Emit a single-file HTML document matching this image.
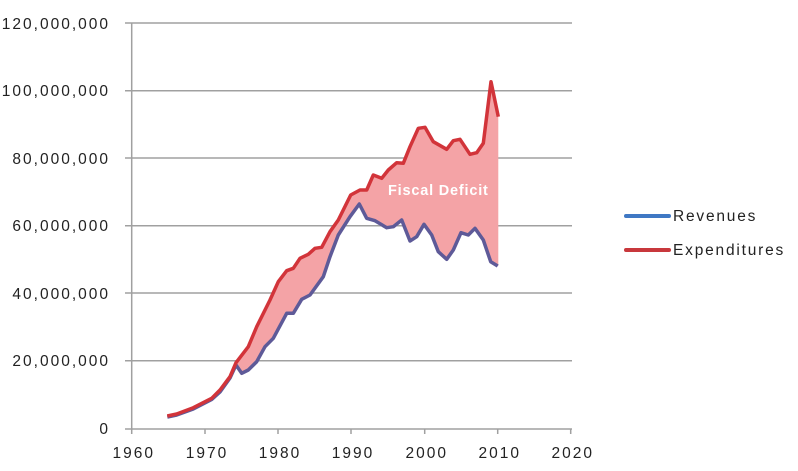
<!DOCTYPE html>
<html><head><meta charset="utf-8"><style>
html,body{margin:0;padding:0;background:#fff;}
svg{display:block;font-family:"Liberation Sans",sans-serif;}
</style></head><body>
<svg width="798" height="471" viewBox="0 0 798 471" xmlns="http://www.w3.org/2000/svg">
<g stroke="#a0a0a0" stroke-width="1.5">
<line x1="125" y1="23" x2="572" y2="23"/>
<line x1="125" y1="90.7" x2="572" y2="90.7"/>
<line x1="125" y1="158" x2="572" y2="158"/>
<line x1="125" y1="225.7" x2="572" y2="225.7"/>
<line x1="125" y1="293" x2="572" y2="293"/>
<line x1="125" y1="360.7" x2="572" y2="360.7"/>
<line x1="125" y1="429" x2="572" y2="429"/>
<line x1="131.7" y1="23" x2="131.7" y2="434"/>
<line x1="205" y1="429" x2="205" y2="434"/>
<line x1="278" y1="429" x2="278" y2="434"/>
<line x1="351" y1="429" x2="351" y2="434"/>
<line x1="424.7" y1="429" x2="424.7" y2="434"/>
<line x1="497.7" y1="429" x2="497.7" y2="434"/>
<line x1="570.7" y1="429" x2="570.7" y2="434"/>
</g>
<g font-size="15.5" fill="#222" text-anchor="end" letter-spacing="2">
<text x="110" y="29">120,000,000</text>
<text x="110" y="96">100,000,000</text>
<text x="110" y="164">80,000,000</text>
<text x="110" y="231">60,000,000</text>
<text x="110" y="299">40,000,000</text>
<text x="110" y="366">20,000,000</text>
<text x="110" y="434">0</text>
</g>
<g font-size="15.5" fill="#222" text-anchor="middle" letter-spacing="2">
<text x="133.7" y="458">1960</text><text x="207" y="458">1970</text><text x="280" y="458">1980</text>
<text x="353" y="458">1990</text><text x="426.7" y="458">2000</text><text x="499.7" y="458">2010</text>
<text x="572.7" y="458">2020</text>
</g>
<polygon fill="#f4a3a6" points="236,362.7 248.3,346.7 256.7,326.7 270,300 278.3,281.7 286.7,270.7 293.3,268.3 300,258.3 308.3,254.3 315,248.3 321.7,247.3 330,231.7 338.3,220 350.7,195 360,190 366.7,190 373.3,175 381.7,178.3 388.3,170 396.7,162.7 403.3,163.3 410,146.7 418.3,128.3 425,127.3 433.3,141.7 446.7,149.3 453.3,140.7 460,139.3 470,154.3 476.7,152.7 483.3,143.3 491,81.7 498.3,116.7 498.3,266 490.7,261.7 483.3,240 475,228.3 468.3,235 461,232.7 453.3,250 446.7,259.3 438.3,251.7 431.7,235 424,224.3 416.7,236.7 410,241 401.7,220 393.3,226.7 386.7,227.7 375,220.7 366.7,218.3 359.3,204 350,216.7 338.3,235 330,256.7 323.3,276.7 310,295 301.7,299.3 293.3,313.3 286.7,313.3 273.3,338.3 265,346.7 256.7,361.7 248.3,370 241.7,373.3"/>
<polyline fill="none" stroke="#5e5a98" stroke-width="3.5" stroke-linejoin="round" points="167.3,417 176.7,415 193.3,409 211.7,399.5 220,392 230,378 236,365 241.7,373.3 248.3,370 256.7,361.7 265,346.7 273.3,338.3 286.7,313.3 293.3,313.3 301.7,299.3 310,295 323.3,276.7 330,256.7 338.3,235 350,216.7 359.3,204 366.7,218.3 375,220.7 386.7,227.7 393.3,226.7 401.7,220 410,241 416.7,236.7 424,224.3 431.7,235 438.3,251.7 446.7,259.3 453.3,250 461,232.7 468.3,235 475,228.3 483.3,240 490.7,261.7 497.7,266"/>
<polyline fill="none" stroke="#d2343a" stroke-width="3.5" stroke-linejoin="round" points="167.3,416 176.7,414 193.3,407.7 211.7,398.3 220,390 230,376.7 236,362.7 248.3,346.7 256.7,326.7 270,300 278.3,281.7 286.7,270.7 293.3,268.3 300,258.3 308.3,254.3 315,248.3 321.7,247.3 330,231.7 338.3,220 350.7,195 360,190 366.7,190 373.3,175 381.7,178.3 388.3,170 396.7,162.7 403.3,163.3 410,146.7 418.3,128.3 425,127.3 433.3,141.7 446.7,149.3 453.3,140.7 460,139.3 470,154.3 476.7,152.7 483.3,143.3 491,81.7 498.3,116.7"/>
<text x="388" y="195" font-size="14.5" font-weight="bold" fill="#fff" letter-spacing="0.8">Fiscal Deficit</text>
<line x1="626" y1="216" x2="669" y2="216" stroke="#3f78c4" stroke-width="4" stroke-linecap="round"/>
<line x1="626" y1="250" x2="669" y2="250" stroke="#c8383c" stroke-width="4" stroke-linecap="round"/>
<g font-size="15.5" fill="#222" letter-spacing="1.8"><text x="673" y="221">Revenues</text><text x="673" y="255">Expenditures</text></g>
</svg>
</body></html>
